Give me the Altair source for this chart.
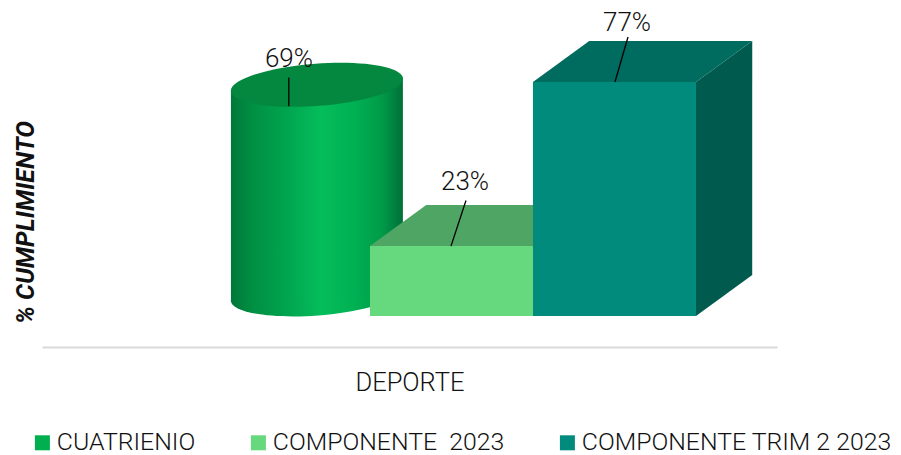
import altair as alt
import pandas as pd

SERIES = ["CUATRIENIO", "COMPONENTE\u00a0 2023", "COMPONENTE TRIM 2 2023"]
VALUES = [69, 23, 77]
LEGEND_COLORS = ["#00B050", "#66D97F", "#008B7C"]

FONT = "Roboto"
X_DOMAIN = [-2.012, 2.497]
Y_DOMAIN = [-10.2, 101.35]
DEPTH_X = 0.345
DEPTH_Y = 13.5
BOX_TOP = ["#4FA563", "#006B5F"]
BOX_SIDE = ["#3E8A50", "#005A4E"]
BOX_START = [0, 1]
CYL_X = [-0.853, 0.202]
CYL_RY = 7.1
CYL_SLOPE = 2.15
CYL_SIZE = 29800
ELLIPSE = "M-1,0A1,0.245 0 1,1 1,0A1,0.245 0 1,1 -1,0Z"
LEADER_X = [-0.498, 0.497, 1.503]
LEADER_TOP_X = [-0.498, 0.589, 1.583]
LEADER_RISE = [9.5, 15, 14.8]
LABEL_X = [-0.497, 0.583, 1.577]
LABEL_RISE = [15.5, 21, 19.5]

sx = alt.Scale(domain=X_DOMAIN, nice=False, zero=False)
sy = alt.Scale(domain=Y_DOMAIN, nice=False, zero=False)
xaxis = alt.Axis(title="DEPORTE", labels=False, ticks=False, grid=False, domain=True,
                 domainColor="#D9D9D9", domainWidth=2, titleFont=FONT, titleFontSize=25.5,
                 titleFontWeight=300, titleColor="#111111", titleY=35, titleBaseline="middle")
yaxis = alt.Axis(title="% CUMPLIMIENTO", labels=False, ticks=False, grid=False, domain=False,
                 titleFont=FONT, titleFontSize=25, titleFontWeight="bold", titleFontStyle="italic",
                 titleColor="#111111", titleX=-17, titleY=214, titleBaseline="middle")


def X(f="x"):
    return alt.X(f"{f}:Q", scale=sx, axis=xaxis)


def Y(f="y"):
    return alt.Y(f"{f}:Q", scale=sy, axis=yaxis)


grad = alt.Gradient(
    gradient="linear", x1=0, x2=1, y1=0, y2=0,
    stops=[
        alt.GradientStop(offset=0, color="#00773A"),
        alt.GradientStop(offset=0.12, color="#008F42"),
        alt.GradientStop(offset=0.3, color="#00A24E"),
        alt.GradientStop(offset=0.52, color="#05BD5B"),
        alt.GradientStop(offset=0.72, color="#00B052"),
        alt.GradientStop(offset=0.88, color="#009A48"),
        alt.GradientStop(offset=1, color="#00703A"),
    ],
)

cx = (CYL_X[0] + CYL_X[1]) / 2
v = VALUES[0]
bottom = alt.Chart(pd.DataFrame({"x": [cx], "y": [CYL_RY]})).mark_point(
    filled=True, fill=grad, opacity=1, shape=ELLIPSE, size=CYL_SIZE, angle=355.7, strokeWidth=0
).encode(x=X(), y=Y())
body = alt.Chart(pd.DataFrame({
    "x": CYL_X,
    "y": [CYL_RY - CYL_SLOPE, CYL_RY + CYL_SLOPE],
    "y2": [v + CYL_RY - CYL_SLOPE, v + CYL_RY + CYL_SLOPE],
})).mark_area(fill=grad, opacity=1).encode(x=X(), y=Y(), y2="y2:Q")
top = alt.Chart(pd.DataFrame({"x": [cx], "y": [v + CYL_RY]})).mark_point(
    filled=True, fill="#04873F", opacity=1, shape=ELLIPSE, size=CYL_SIZE, angle=355.7, strokeWidth=0
).encode(x=X(), y=Y())

layers = [bottom, body, top]

for i, a in enumerate(BOX_START):
    h = VALUES[i + 1]
    top_face = pd.DataFrame({
        "x": [a, a + DEPTH_X, a + 1, a + 1 + DEPTH_X],
        "y": [h, h, h, h + DEPTH_Y],
        "y2": [h, h + DEPTH_Y, h + DEPTH_Y, h + DEPTH_Y],
    })
    side_face = pd.DataFrame({
        "x": [a + 1, a + 1 + DEPTH_X],
        "y": [0, DEPTH_Y],
        "y2": [h, h + DEPTH_Y],
    })
    layers.append(alt.Chart(side_face).mark_area(color=BOX_SIDE[i], opacity=1).encode(x=X(), y=Y(), y2="y2:Q"))
    layers.append(alt.Chart(top_face).mark_area(color=BOX_TOP[i], opacity=1).encode(x=X(), y=Y(), y2="y2:Q"))
    front = pd.DataFrame({"x": [a], "x2": [a + 1], "y": [0], "y2": [h], "serie": [SERIES[i + 1]]})
    layers.append(alt.Chart(front).mark_rect(opacity=1).encode(
        x=X(), x2="x2:Q", y=Y(), y2="y2:Q",
        color=alt.Color("serie:N", scale=alt.Scale(domain=SERIES, range=LEGEND_COLORS),
                        legend=alt.Legend(
                            title=None, orient="none", legendX=-12, legendY=422, columns=3,
                            direction="horizontal", columnPadding=50, padding=0,
                            symbolType="square", symbolSize=225, symbolStrokeWidth=0, symbolOpacity=1,
                            labelFont=FONT, labelFontSize=24.8, labelFontWeight=300, labelColor="#111111",
                            labelOffset=2, labelLimit=400)),
    ))

leaders = pd.DataFrame({
    "x": LEADER_X, "x2": LEADER_TOP_X,
    "y": VALUES, "y2": [a + b for a, b in zip(VALUES, LEADER_RISE)],
})
layers.append(alt.Chart(leaders).mark_rule(color="#000000", strokeWidth=1.3).encode(
    x=X(), x2="x2:Q", y=Y(), y2="y2:Q"))

labels = pd.DataFrame({
    "x": LABEL_X,
    "y": [a + b for a, b in zip(VALUES, LABEL_RISE)],
    "t": [f"{a}%" for a in VALUES],
})
layers.append(alt.Chart(labels).mark_text(
    font=FONT, fontSize=26, fontWeight=300, color="#111111", align="center", baseline="middle"
).encode(x=X(), y=Y(), text="t:N"))

chart = alt.layer(*layers).properties(
    width=735, height=339,
    autosize=alt.AutoSizeParams(type="none"),
    padding={"left": 34, "top": 0, "right": 116, "bottom": 108},
).configure_view(stroke=None)

chart.save("out.html", embed_options={"renderer": "svg", "actions": False})
